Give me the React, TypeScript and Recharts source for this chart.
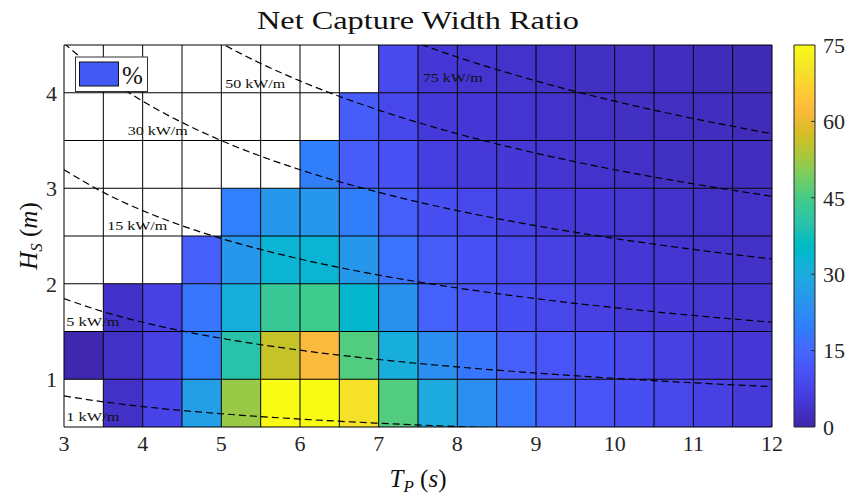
import React from 'react';
import { ComposedChart, XAxis, YAxis, ReferenceArea, ReferenceLine, Line, Scatter } from 'recharts';

// ---------- data ----------
const tpEdges = [3, 3.5, 4, 4.5, 5, 5.5, 6, 6.5, 7, 7.5, 8, 8.5, 9, 9.5, 10, 10.5, 11, 11.5, 12];
const hsEdges = [0.5, 1, 1.5, 2, 2.5, 3, 3.5, 4, 4.5];
const tpTicks = [3, 4, 5, 6, 7, 8, 9, 10, 11, 12];
const hsTicks = [1, 2, 3, 4];
const cbTicks = [0, 15, 30, 45, 60, 75];

// net capture width ratio (%) per Hs bin (rows) and Tp bin (columns); null = no data
const cwrHs050 = [null, 3, 7.5, 27, 52, 75, 75, 70, 46, 30, 23, 18, 13.5, 11, 10, 8.3, 6.8, 5.4];
const cwrHs100 = [0.5, 3, 7, 20, 40, 56, 62, 46, 31, 23, 18, 13.5, 11, 10, 8.3, 6.8, 5.4, 5];
const cwrHs150 = [null, 3.5, 7, 18, 31, 43, 44, 34, 24, 14, 11, 10, 8.3, 6.8, 5.4, 5, 4.2, 3.6];
const cwrHs200 = [null, null, null, 13.5, 25, 33, 33, 25, 17.5, 13, 10.5, 8.3, 6.8, 5.4, 4.8, 4.2, 3.6, 3.2];
const cwrHs250 = [null, null, null, null, 20, 25, 25, 19.5, 13.5, 10, 8.3, 6.8, 5.4, 5, 4.2, 3.6, 3.2, 3];
const cwrHs300 = [null, null, null, null, null, null, 19.5, 13, 10.5, 6.5, 5.4, 5, 4.2, 3.6, 3.2, 2.8, 2.5, 2.2];
const cwrHs350 = [null, null, null, null, null, null, null, 13, 8.3, 5.4, 4.8, 4.2, 3.6, 3.2, 2.8, 2.4, 2.2, 1.8];
const cwrHs400 = [null, null, null, null, null, null, null, null, 9, 4.8, 4.2, 3.6, 3.2, 2.8, 2.4, 2.2, 1.8, 1.5];
const cwrRows = [cwrHs050, cwrHs100, cwrHs150, cwrHs200, cwrHs250, cwrHs300, cwrHs350, cwrHs400];

// colour-scale range (%)
const cbRange = [{ x: 0, v: 0 }, { x: 1, v: 75 }];

// wave power iso-lines (Tp s, Hs m)
const contour1 = [
  { tp: 3, hs: 0.825 }, { tp: 3.5, hs: 0.764 }, { tp: 4, hs: 0.714 }, { tp: 4.5, hs: 0.673 }, { tp: 5, hs: 0.639 },
  { tp: 6, hs: 0.583 }, { tp: 7, hs: 0.54 }, { tp: 8, hs: 0.505 }, { tp: 9, hs: 0.476 },
];
const contour5 = [
  { tp: 3, hs: 1.844 }, { tp: 3.5, hs: 1.707 }, { tp: 4, hs: 1.597 }, { tp: 4.5, hs: 1.506 }, { tp: 5, hs: 1.429 },
  { tp: 6, hs: 1.304 }, { tp: 7, hs: 1.207 }, { tp: 8, hs: 1.129 }, { tp: 9, hs: 1.065 }, { tp: 10, hs: 1.01 },
  { tp: 11, hs: 0.963 }, { tp: 12, hs: 0.922 },
];
const contour15 = [
  { tp: 3, hs: 3.194 }, { tp: 3.5, hs: 2.957 }, { tp: 4, hs: 2.766 }, { tp: 4.5, hs: 2.608 }, { tp: 5, hs: 2.474 },
  { tp: 6, hs: 2.259 }, { tp: 7, hs: 2.091 }, { tp: 8, hs: 1.956 }, { tp: 9, hs: 1.844 }, { tp: 10, hs: 1.75 },
  { tp: 11, hs: 1.668 }, { tp: 12, hs: 1.597 },
];
const contour30 = [
  { tp: 3, hs: 4.518 }, { tp: 3.5, hs: 4.183 }, { tp: 4, hs: 3.912 }, { tp: 4.5, hs: 3.689 }, { tp: 5, hs: 3.499 },
  { tp: 6, hs: 3.194 }, { tp: 7, hs: 2.957 }, { tp: 8, hs: 2.766 }, { tp: 9, hs: 2.608 }, { tp: 10, hs: 2.474 },
  { tp: 11, hs: 2.359 }, { tp: 12, hs: 2.259 },
];
const contour50 = [
  { tp: 4, hs: 5.051 }, { tp: 4.5, hs: 4.762 }, { tp: 5, hs: 4.518 }, { tp: 5.5, hs: 4.307 }, { tp: 6, hs: 4.124 },
  { tp: 7, hs: 3.818 }, { tp: 8, hs: 3.571 }, { tp: 9, hs: 3.367 }, { tp: 10, hs: 3.194 }, { tp: 11, hs: 3.046 },
  { tp: 12, hs: 2.916 },
];
const contour75 = [
  { tp: 6, hs: 5.051 }, { tp: 7, hs: 4.676 }, { tp: 7.5, hs: 4.518 }, { tp: 8, hs: 4.374 }, { tp: 9, hs: 4.124 },
  { tp: 10, hs: 3.912 }, { tp: 11, hs: 3.73 }, { tp: 12, hs: 3.571 },
];
const contours = [contour1, contour5, contour15, contour30, contour50, contour75];

const contourLabels = [
  { tp: 3.03, hs: 0.614, text: '1 kW/m' },
  { tp: 3.03, hs: 1.607, text: '5 kW/m' },
  { tp: 3.55, hs: 2.613, text: '15 kW/m' },
  { tp: 3.81, hs: 3.609, text: '30 kW/m' },
  { tp: 5.05, hs: 4.1, text: '50 kW/m' },
  { tp: 7.56, hs: 4.155, text: '75 kW/m' },
];

// ---------- style ----------
const SERIF = '"Liberation Serif", "DejaVu Serif", serif';
const TXT = '#262626';
const PARULA = [
  [0.2422, 0.1504, 0.6603], [0.2504, 0.165, 0.7076], [0.2578, 0.1818, 0.7511], [0.2647, 0.1978, 0.7952],
  [0.2706, 0.2147, 0.8364], [0.2751, 0.2342, 0.871], [0.2783, 0.2559, 0.8991], [0.2803, 0.2782, 0.9221],
  [0.2813, 0.3006, 0.9414], [0.281, 0.3228, 0.9579], [0.2795, 0.3447, 0.9717], [0.276, 0.3667, 0.9829],
  [0.2699, 0.3892, 0.9906], [0.2602, 0.4123, 0.9952], [0.244, 0.4358, 0.9988], [0.2206, 0.4603, 0.9973],
  [0.1963, 0.4847, 0.9892], [0.1834, 0.5074, 0.9798], [0.1786, 0.5289, 0.9682], [0.1764, 0.5499, 0.952],
  [0.1687, 0.5703, 0.9359], [0.154, 0.5902, 0.9218], [0.146, 0.6091, 0.9079], [0.138, 0.6276, 0.8973],
  [0.1248, 0.6459, 0.8883], [0.1113, 0.6635, 0.8763], [0.0952, 0.6798, 0.8598], [0.0689, 0.6948, 0.8394],
  [0.0297, 0.7082, 0.8163], [0.0036, 0.7203, 0.7917], [0.0067, 0.7312, 0.766], [0.0433, 0.7411, 0.7394],
  [0.0964, 0.75, 0.712], [0.1408, 0.7584, 0.6842], [0.1717, 0.767, 0.6554], [0.1938, 0.7758, 0.6251],
  [0.2161, 0.7843, 0.5923], [0.247, 0.7918, 0.5567], [0.2906, 0.7973, 0.5188], [0.3406, 0.8008, 0.4789],
  [0.3909, 0.8029, 0.4354], [0.4456, 0.8024, 0.3909], [0.5044, 0.7993, 0.348], [0.5616, 0.7942, 0.3045],
  [0.6174, 0.7876, 0.2612], [0.672, 0.7793, 0.2227], [0.7242, 0.7698, 0.191], [0.7738, 0.7598, 0.1646],
  [0.8203, 0.7498, 0.1535], [0.8634, 0.7406, 0.1596], [0.9035, 0.733, 0.1774], [0.9393, 0.7288, 0.21],
  [0.9728, 0.7298, 0.2394], [0.9956, 0.7434, 0.2371], [0.997, 0.7659, 0.2199], [0.9952, 0.7893, 0.2028],
  [0.9892, 0.8136, 0.1885], [0.9786, 0.8386, 0.1766], [0.9676, 0.8639, 0.1643], [0.961, 0.889, 0.1537],
  [0.9597, 0.9135, 0.1423], [0.9628, 0.9373, 0.1265], [0.9691, 0.9606, 0.1064], [0.9769, 0.9839, 0.0805],
];
const CMIN = 0;
const CMAX = 75;

const rgb = (c: number[]) =>
  `rgb(${Math.round(c[0] * 255)},${Math.round(c[1] * 255)},${Math.round(c[2] * 255)})`;

const colorFor = (v: number) => {
  const t = Math.min(1, Math.max(0, (v - CMIN) / (CMAX - CMIN)));
  const f = t * (PARULA.length - 1);
  const i = Math.min(PARULA.length - 2, Math.floor(f));
  const w = f - i;
  const a = PARULA[i];
  const b = PARULA[i + 1];
  return rgb([a[0] + (b[0] - a[0]) * w, a[1] + (b[1] - a[1]) * w, a[2] + (b[2] - a[2]) * w]);
};

const tickStyle = { fontSize: 22, fill: TXT, fontFamily: SERIF };

const renderContourLabel = (p: any) => {
  if (p == null || p.cx == null) return <g />;
  const text = p.payload.text as string;
  return (
    <text
      x={p.cx}
      y={p.cy}
      fontFamily={SERIF}
      fontSize={13.5}
      fill="#111"
      dominantBaseline="central"
      textLength={text.length === 6 ? 53 : 60}
      lengthAdjust="spacingAndGlyphs"
    >
      {text}
    </text>
  );
};

export default function App() {
  const cells: React.ReactNode[] = [];
  cwrRows.forEach((row, r) => {
    row.forEach((v, c) => {
      if (v == null) return;
      cells.push(
        <ReferenceArea
          key={`cell-${r}-${c}`}
          x1={tpEdges[c]}
          x2={tpEdges[c + 1]}
          y1={hsEdges[r]}
          y2={hsEdges[r + 1]}
          fill={colorFor(v)}
          fillOpacity={1}
          stroke="none"
          ifOverflow="visible"
        />
      );
    });
  });

  const gridX = tpEdges.slice(1, -1).map((x) => (
    <ReferenceLine key={`gx-${x}`} x={x} stroke="#000" strokeWidth={1} ifOverflow="visible" />
  ));
  const gridY = hsEdges.slice(1, -1).map((y) => (
    <ReferenceLine key={`gy-${y}`} y={y} stroke="#000" strokeWidth={1} ifOverflow="visible" />
  ));

  return (
    <div style={{ position: 'absolute', left: 0, top: 0, width: 846, height: 496, background: '#fff' }}>
      <div style={{ position: 'absolute', left: 0, top: 0 }}>
        <ComposedChart width={846} height={496} margin={{ top: 45, right: 74, bottom: 39, left: 0 }}>
          <XAxis
            type="number"
            dataKey="tp"
            domain={[3, 12]}
            ticks={tpTicks}
            interval={0}
            allowDataOverflow
            tickLine={false}
            axisLine={false}
            tickSize={0}
            tickMargin={8}
            height={30}
            tick={tickStyle}
          />
          <YAxis
            type="number"
            dataKey="hs"
            domain={[0.5, 4.5]}
            ticks={hsTicks}
            interval={0}
            allowDataOverflow
            width={64}
            tickLine={false}
            axisLine={false}
            tickSize={0}
            tickMargin={7}
            tick={tickStyle}
          />
          {cells}
          {gridX}
          {gridY}
          {contours.map((d, i) => (
            <Line
              key={`ct-${i}`}
              data={d}
              dataKey="hs"
              type="monotone"
              stroke="#000"
              strokeWidth={1.2}
              strokeDasharray="7 4"
              dot={false}
              activeDot={false}
              isAnimationActive={false}
            />
          ))}
          <Scatter data={contourLabels} dataKey="hs" shape={renderContourLabel} isAnimationActive={false} />
          <ReferenceArea x1={3} x2={12} y1={0.5} y2={4.5} fill="none" stroke="#000" strokeWidth={1} ifOverflow="visible" />
        </ComposedChart>
      </div>

      <div style={{ position: 'absolute', left: 780, top: 0 }}>
        <ComposedChart width={66} height={496} data={cbRange} margin={{ top: 45, right: 0, bottom: 39, left: 14 }}>
          <defs>
            <linearGradient id="parulaBar" x1="0" y1="1" x2="0" y2="0">
              {PARULA.map((c, i) => (
                <stop key={i} offset={i / (PARULA.length - 1)} stopColor={rgb(c)} />
              ))}
            </linearGradient>
          </defs>
          <XAxis
            type="number"
            dataKey="x"
            domain={[0, 1]}
            height={30}
            tick={false}
            tickLine={false}
            axisLine={false}
          />
          <YAxis
            type="number"
            dataKey="v"
            orientation="right"
            domain={[CMIN, CMAX]}
            ticks={cbTicks}
            interval={0}
            width={31}
            tickSize={0}
            tickMargin={8}
            axisLine={false}
            tickLine={false}
            tick={tickStyle}
          />
          <Line dataKey="v" stroke="none" dot={false} activeDot={false} isAnimationActive={false} />
          <ReferenceArea x1={0} x2={1} y1={CMIN} y2={CMAX} fill="url(#parulaBar)" fillOpacity={1} stroke="#262626" strokeWidth={1} ifOverflow="visible" />
          {cbTicks.slice(1, -1).map((v) => (
            <ReferenceLine key={`cbt-${v}`} segment={[{ x: 0.82, y: v }, { x: 1, y: v }]} stroke="#262626" ifOverflow="visible" />
          ))}
        </ComposedChart>
      </div>

      <svg width={846} height={496} style={{ position: 'absolute', left: 0, top: 0, pointerEvents: 'none' }}>
        <text x={418} y={29} textAnchor="middle" fontFamily={SERIF} fontSize={26} fill="#111" textLength={322} lengthAdjust="spacingAndGlyphs">
          Net Capture Width Ratio
        </text>
        <text x={418} y={487} textAnchor="middle" fontFamily={SERIF} fontSize={25} fill="#111">
          <tspan fontStyle="italic">T</tspan>
          <tspan fontStyle="italic" fontSize={17} dy={5}>P</tspan>
          <tspan dy={-5}>{' ('}</tspan>
          <tspan fontStyle="italic">s</tspan>
          <tspan>)</tspan>
        </text>
        <text transform="translate(37,236) rotate(-90)" textAnchor="middle" fontFamily={SERIF} fontSize={25} fill="#111">
          <tspan fontStyle="italic">H</tspan>
          <tspan fontStyle="italic" fontSize={17} dy={5}>S</tspan>
          <tspan dy={-5}>{' ('}</tspan>
          <tspan fontStyle="italic">m</tspan>
          <tspan>)</tspan>
        </text>
        <rect x={75.5} y={57} width={72} height={34.5} fill="#fff" stroke="#333" strokeWidth={1} />
        <rect x={79.5} y={62} width={39} height={24} fill="#4459F4" stroke="#111" strokeWidth={1} />
        <text x={122} y={84} fontFamily={SERIF} fontSize={25} fill="#111">%</text>
      </svg>
    </div>
  );
}
